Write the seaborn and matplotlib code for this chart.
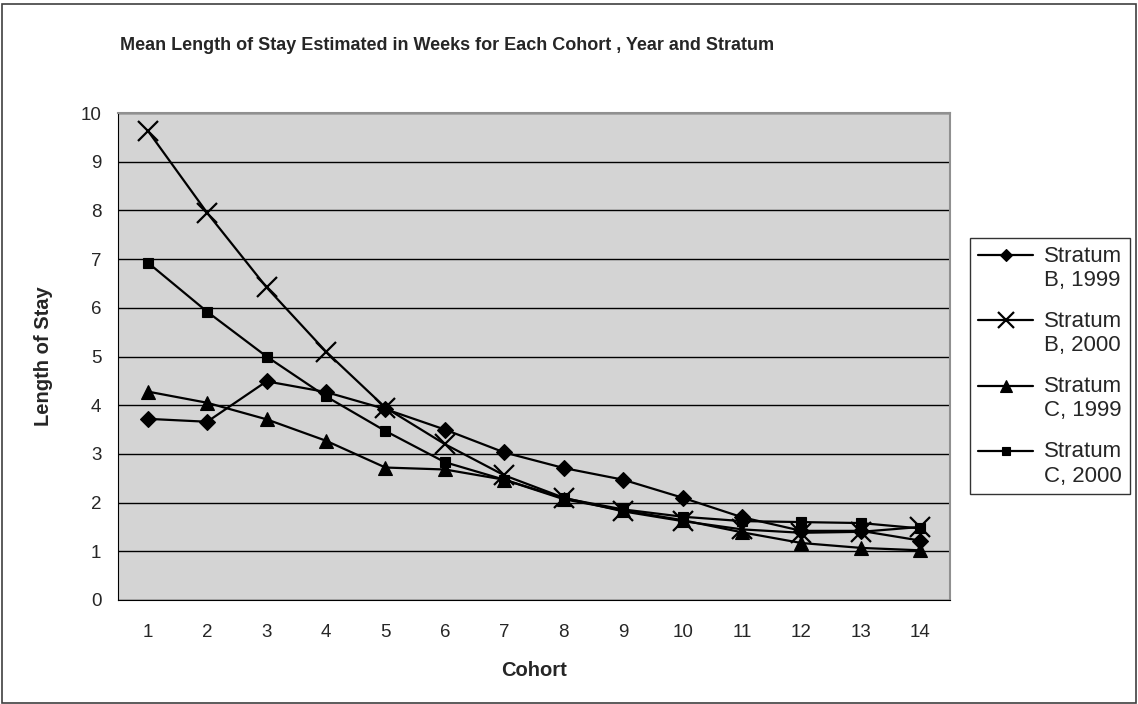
import pandas as pd
import matplotlib
matplotlib.use("Agg")
import matplotlib.pyplot as plt
import seaborn as sns
from matplotlib.patches import Rectangle
from matplotlib.legend_handler import HandlerLine2D

# datos
cohortes = list(range(1, 15))
b_1999 = [3.72, 3.66, 4.49, 4.27, 3.92, 3.50, 3.03, 2.71, 2.47, 2.10, 1.70, 1.42, 1.42, 1.22]
b_2000 = [9.64, 7.95, 6.42, 5.10, 3.95, 3.20, 2.56, 2.10, 1.82, 1.62, 1.45, 1.38, 1.40, 1.50]
c_1999 = [4.28, 4.05, 3.71, 3.27, 2.72, 2.68, 2.47, 2.07, 1.84, 1.64, 1.39, 1.17, 1.07, 1.02]
c_2000 = [6.93, 5.92, 5.00, 4.18, 3.47, 2.83, 2.47, 2.09, 1.86, 1.71, 1.62, 1.60, 1.58, 1.47]
series = ["Stratum\nB, 1999", "Stratum\nB, 2000", "Stratum\nC, 1999", "Stratum\nC, 2000"]

df = pd.DataFrame({
    "Cohort": cohortes * 4,
    "Length of Stay": b_1999 + b_2000 + c_1999 + c_2000,
    "Serie": [s for s in series for _ in cohortes],
})


# la linea de la leyenda va a la altura de la primera linea del texto
class HandlerArriba(HandlerLine2D):
    def create_artists(self, legend, orig_handle, xdescent, ydescent, width, height, fontsize, trans):
        arts = super().create_artists(legend, orig_handle, xdescent, ydescent, width, height, fontsize, trans)
        for a in arts:
            a.set_ydata([y + 0.6 * fontsize for y in a.get_ydata()])
        return arts


sns.set_style("white")
plt.rcParams["font.family"] = ["Liberation Sans", "DejaVu Sans"]

fig = plt.figure(figsize=(11.38, 7.04), dpi=100)
ax = fig.add_axes([118 / 1138, 1 - 600 / 704, (950 - 118) / 1138, (600 - 113) / 704])
ax.set_facecolor("#d4d4d4")

marcadores = {series[0]: "D", series[1]: "x", series[2]: "^", series[3]: "s"}
tamanos = {series[0]: 8, series[1]: 14, series[2]: 10, series[3]: 6.5}

for s in series:
    sub = df[df["Serie"] == s]
    sns.lineplot(data=sub, x="Cohort", y="Length of Stay", ax=ax, color="black",
                 linewidth=1.6, marker=marcadores[s], markersize=tamanos[s],
                 markeredgewidth=1.6 if s == series[1] else 0.8,
                 markeredgecolor="black", label=s)

ax.set_xlim(0.5, 14.5)
ax.set_ylim(0, 10)
ax.set_xticks(cohortes)
ax.set_xticks([c + 0.5 for c in [0] + cohortes], minor=True)
ax.tick_params(axis="x", which="major", length=0, labelsize=13.5, pad=17)
ax.tick_params(axis="x", which="minor", length=5, width=1, color="black", direction="out")
ax.set_yticks(range(0, 11))
ax.tick_params(axis="y", length=6, width=1, color="black", direction="out", labelsize=13.5, pad=6)
ax.yaxis.grid(True, color="black", linewidth=1)
ax.set_axisbelow(True)

for lado in ["left", "bottom"]:
    ax.spines[lado].set_color("black")
for lado in ["top", "right"]:
    ax.spines[lado].set_color("#909090")
    ax.spines[lado].set_linewidth(1.5)

ax.set_xlabel("Cohort", fontsize=14.5, fontweight="bold", labelpad=15)
ax.set_ylabel("Length of Stay", fontsize=14.5, fontweight="bold", labelpad=20)

fig.text(120 / 1138, 1 - 45 / 704, "Mean Length of Stay Estimated in Weeks for Each Cohort , Year and Stratum",
         fontsize=13, fontweight="bold", va="center", ha="left")

handles, labels = ax.get_legend_handles_labels()
ax.get_legend().remove()
leg = fig.legend(handles, labels, loc="upper left", bbox_to_anchor=(970 / 1138, 1 - 238 / 704),
                 frameon=True, fancybox=False, edgecolor="black", fontsize=16,
                 handlelength=2.5, labelspacing=0.9, borderpad=0.35, handletextpad=0.5,
                 borderaxespad=0, markerscale=0.8,
                 handler_map={h: HandlerArriba() for h in handles})
leg.get_frame().set_linewidth(1)
for t in leg.get_texts():
    t.set_multialignment("left")

# borde exterior
fig.patches.append(Rectangle((0.002, 0.002), 0.996, 0.993, transform=fig.transFigure,
                             fill=False, edgecolor="#404040", linewidth=1.2))

fig.savefig("out.png", dpi=100)
